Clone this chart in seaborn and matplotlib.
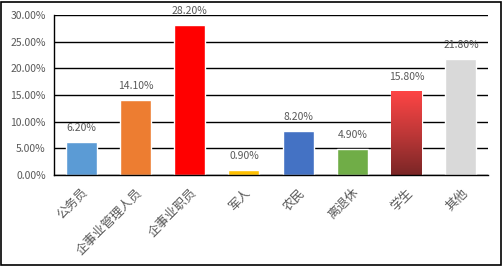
import matplotlib
matplotlib.use("Agg")
import matplotlib.pyplot as plt
import seaborn as sns
import numpy as np
import pandas as pd
from matplotlib.colors import LinearSegmentedColormap
from matplotlib.ticker import FixedLocator, FuncFormatter

categories = ["公务员", "企事业管理人员", "企事业职员", "军人", "农民", "离退休", "学生", "其他"]
values = [6.2, 14.1, 28.2, 0.9, 8.2, 4.9, 15.8, 21.8]
colors = ["#5B9BD5", "#ED7D31", "#FF0000", "#FFC000", "#4472C4", "#70AD47", "#FF4545", "#D9D9D9"]
yticks = [0, 5, 10, 15, 20, 25, 30]

sns.set_theme(style="white")
plt.rcParams['font.family'] = ['Noto Sans CJK SC', 'DejaVu Sans']

df = pd.DataFrame({"cat": categories, "val": values})

fig = plt.figure(figsize=(5.03, 2.66), dpi=100)
ax = fig.add_axes([54/503, 1 - 175/266, (488-54)/503, (175-15)/266])
sns.barplot(data=df, x="cat", y="val", hue="cat", palette=colors, legend=False,
            width=0.57, ax=ax, saturation=1)

ax.set_ylim(0, 30)
ax.set_xlim(-0.5, len(categories) - 0.5)
ax.yaxis.set_major_locator(FixedLocator(yticks))
ax.yaxis.set_major_formatter(FuncFormatter(lambda v, p: f"{v:.2f}%"))
ax.grid(axis="y", color="black", linewidth=1.0)
ax.set_axisbelow(True)
ax.set_xlabel("")
ax.set_ylabel("")

for s in ["top", "right"]:
    ax.spines[s].set_visible(False)
ax.spines["left"].set_color("black")
ax.spines["bottom"].set_color("black")
ax.spines["left"].set_linewidth(1.0)
ax.spines["bottom"].set_linewidth(1.0)

ax.tick_params(axis="y", length=0, labelsize=7.5, labelcolor="#595959", pad=6)
ax.set_xticks(range(len(categories)))
ax.set_xticklabels(categories, rotation=45, ha="right", rotation_mode="anchor",
                   fontsize=9, color="#595959")
ax.tick_params(axis="x", length=0, pad=8)
ax.set_xticks(np.arange(-0.5, len(categories), 1.0), minor=True)
ax.tick_params(axis="x", which="minor", length=4, width=1, color="black", direction="out")

# gradient for student bar
patches = ax.patches
stud = patches[6]
x0 = stud.get_x(); w = stud.get_width(); h = stud.get_height()
cmap = LinearSegmentedColormap.from_list("g", ["#7A2626", "#C03838", "#FF4545"])
grad = np.linspace(0, 1, 256).reshape(-1, 1)
stud.set_facecolor("none")
im = ax.imshow(grad, cmap=cmap, extent=[x0, x0 + w, 0, h], origin="lower",
               aspect="auto", zorder=stud.get_zorder())
im.set_clip_path(stud)
ax.set_xlim(-0.5, len(categories) - 0.5)
ax.set_ylim(0, 30)

for i, v in enumerate(values):
    ax.annotate(f"{v:.2f}%", (i, v), xytext=(0, 6.5), textcoords="offset points",
                ha="center", va="bottom", fontsize=7.5, color="#595959", annotation_clip=False)

fig.patches.append(plt.Rectangle((0.002, 0.004), 0.994, 0.99, transform=fig.transFigure,
                                 fill=False, edgecolor="black", linewidth=1.2))
fig.savefig("out.png", dpi=100)
